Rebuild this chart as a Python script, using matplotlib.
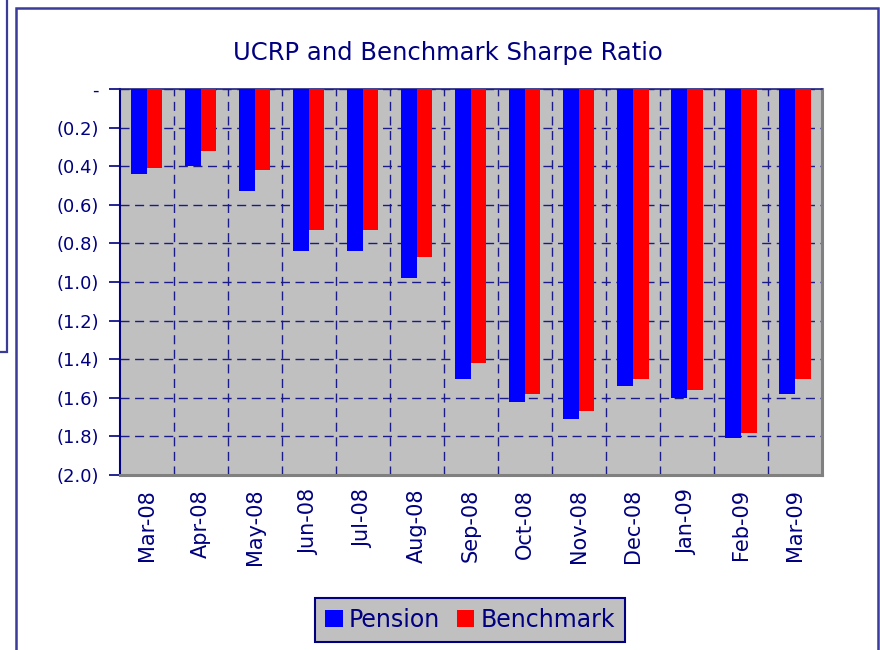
import matplotlib
matplotlib.use("Agg")
import matplotlib.pyplot as plt
from matplotlib.patches import Rectangle, Patch
from matplotlib.ticker import FixedLocator, FuncFormatter
import numpy as np

months = ["Mar-08", "Apr-08", "May-08", "Jun-08", "Jul-08", "Aug-08", "Sep-08",
          "Oct-08", "Nov-08", "Dec-08", "Jan-09", "Feb-09", "Mar-09"]
pension = [-0.44, -0.40, -0.53, -0.84, -0.84, -0.98, -1.50,
           -1.62, -1.71, -1.54, -1.60, -1.81, -1.58]
benchmark = [-0.41, -0.32, -0.42, -0.73, -0.73, -0.87, -1.42,
             -1.58, -1.67, -1.50, -1.56, -1.78, -1.50]
y_ticks = [0.0, -0.2, -0.4, -0.6, -0.8, -1.0, -1.2, -1.4, -1.6, -1.8, -2.0]

NAVY = "#000080"
FRAME = "#3b3b98"
plt.rcParams['font.family'] = ['DejaVu Sans']

fig = plt.figure(figsize=(8.8, 6.5), dpi=100)
fig.patch.set_facecolor("white")

# outer frames
fig.add_artist(Rectangle((-0.05, 1 - 352 / 650), 0.05 + 6.5 / 880, 352 / 650 + 0.05,
                         transform=fig.transFigure, fill=False, edgecolor=FRAME, lw=1.6))
fig.add_artist(Rectangle((16 / 880, -0.05), (877.5 - 16) / 880, 1.05 - 7.5 / 650,
                         transform=fig.transFigure, fill=False, edgecolor=FRAME, lw=1.8))

ax = fig.add_axes([119.5 / 880, 175 / 650, (822 - 119.5) / 880, (475 - 89) / 650])
ax.set_facecolor("#c0c0c0")

x = np.arange(len(months))
w = 0.29
ax.bar(x - w / 2, pension, width=w, color="#0000ff", zorder=3, label="Pension")
ax.bar(x + w / 2, benchmark, width=w, color="#ff0000", zorder=3, label="Benchmark")

ax.set_xlim(-0.5, len(months) - 0.5)
ax.set_ylim(-2.0, 0.0)

ax.yaxis.set_major_locator(FixedLocator(y_ticks))
def fmt(v, pos):
    if abs(v) < 1e-9:
        return "-"
    return "({:.1f})".format(abs(v))
ax.yaxis.set_major_formatter(FuncFormatter(fmt))
ax.tick_params(axis='y', colors=NAVY, labelcolor=NAVY, labelsize=13, length=8, width=1.2, pad=7)

ax.set_xticks(x)
ax.set_xticklabels(months, rotation=90, color=NAVY, fontsize=15)
ax.tick_params(axis='x', length=0, pad=10)

# grid
ax.set_xticks(np.arange(0.5, len(months) - 1, 1.0), minor=True)
ax.tick_params(axis='x', which='minor', length=0)
ax.grid(True, axis='x', which='minor', color="#1a1a88", linestyle=(0, (6.5, 4)), lw=1.0, zorder=1)
ax.grid(True, axis='y', which='major', color="#1a1a88", linestyle=(0, (6.5, 4)), lw=1.0, zorder=1)
ax.grid(False, axis='x', which='major')

ax.spines['left'].set_color(NAVY)
ax.spines['left'].set_linewidth(1.5)
ax.spines['top'].set_color("#202080")
ax.spines['top'].set_linewidth(1.2)
ax.spines['bottom'].set_color("#808080")
ax.spines['bottom'].set_linewidth(2.2)
ax.spines['right'].set_color("#808080")
ax.spines['right'].set_linewidth(2.2)

fig.text(448 / 880, 1 - 53 / 650, "UCRP and Benchmark Sharpe Ratio", ha='center', va='center',
         color=NAVY, fontsize=17.5)

handles = [Patch(facecolor="#0000ff"), Patch(facecolor="#ff0000")]
leg = fig.legend(handles, ["Pension", "Benchmark"], loc='center',
                 bbox_to_anchor=(470 / 880, 1 - 620 / 650),
                 ncol=2, frameon=True, fontsize=17, handlelength=0.75, handleheight=0.75,
                 handletextpad=0.25, columnspacing=0.7, borderpad=0.42, fancybox=False)
leg.get_frame().set_facecolor("#c0c0c0")
leg.get_frame().set_edgecolor(NAVY)
leg.get_frame().set_linewidth(1.5)
leg.get_frame().set_alpha(1.0)
for t in leg.get_texts():
    t.set_color(NAVY)

fig.savefig("out.png", dpi=100, facecolor="white")
